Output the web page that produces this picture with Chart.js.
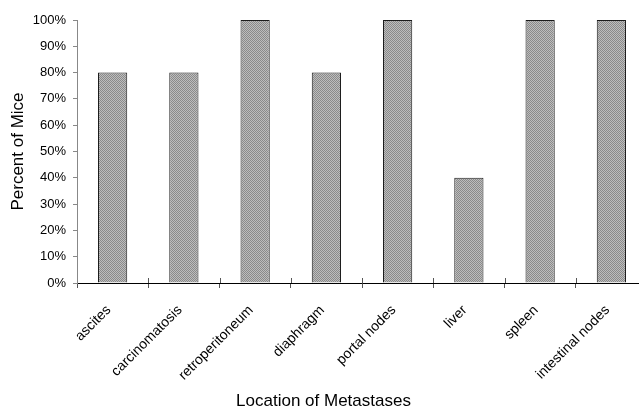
<!DOCTYPE html>
<html>
<head>
<meta charset="utf-8">
<script src="https://cdn.jsdelivr.net/npm/chart.js@4/dist/chart.umd.min.js"></script>
<style>
    html, body { margin: 0; padding: 0; background: #fff; overflow: hidden; }
    #metChart { display: block; }
</style>
</head>
<body>
<canvas id="metChart" width="660" height="412"></canvas>
<script>
const locations = ['ascites', 'carcinomatosis', 'retroperitoneum', 'diaphragm', 'portal nodes', 'liver', 'spleen', 'intestinal nodes'];
const percentMice = [80, 80, 100, 80, 100, 40, 100, 100];
const yTicks = [0, 10, 20, 30, 40, 50, 60, 70, 80, 90, 100];

document.addEventListener('DOMContentLoaded', () => {
    Chart.defaults.font.family = "'Liberation Sans', Arial, sans-serif";
    Chart.defaults.color = '#000';

    // dithered grey fill like the old print
    const tile = document.createElement('canvas');
    tile.width = 2; tile.height = 2;
    const tctx = tile.getContext('2d');
    tctx.fillStyle = '#bdbdbd'; tctx.fillRect(0, 0, 2, 2);
    tctx.fillStyle = '#8a8a8a'; tctx.fillRect(0, 0, 1, 1); tctx.fillRect(1, 1, 1, 1);
    const ctx = document.getElementById('metChart').getContext('2d');
    const fill = ctx.createPattern(tile, 'repeat');

    // category ticks cross the x axis line
    const crossTicks = {
        id: 'crossTicks',
        afterDatasetsDraw(chart) {
            const x = chart.scales.x, y = chart.scales.y;
            const c = chart.ctx;
            c.save();
            c.strokeStyle = '#555';
            c.lineWidth = 1;
            for (let i = 1; i < locations.length; i++) {
                const px = Math.round((x.getPixelForValue(i - 1) + x.getPixelForValue(i)) / 2) + 0.5;
                c.beginPath();
                c.moveTo(px, y.bottom - 5);
                c.lineTo(px, y.bottom);
                c.stroke();
            }
            c.restore();
        }
    };

    new Chart(ctx, {
        type: 'bar',
        data: {
            labels: locations,
            datasets: [{
                data: percentMice,
                backgroundColor: fill,
                borderColor: '#1a1a1a',
                borderWidth: { top: 1, left: 1, right: 1, bottom: 0 },
                borderSkipped: 'bottom',
                barPercentage: 0.41,
                categoryPercentage: 1
            }]
        },
        options: {
            responsive: false,
            animation: false,
            layout: { padding: { top: 20, right: 13, bottom: 0, left: 0 } },
            plugins: {
                legend: { display: false },
                tooltip: { enabled: false },
                title: {
                    display: true,
                    position: 'bottom',
                    text: 'Location of Metastases',
                    font: { size: 17, weight: 'normal' },
                    color: '#000',
                    padding: { top: 0, bottom: 0 }
                }
            },
            scales: {
                x: {
                    grid: { display: true, drawOnChartArea: false, offset: true, tickLength: 5, color: '#555' },
                    border: { color: '#000', width: 1 },
                    ticks: { font: { size: 14 }, maxRotation: 45, minRotation: 45, padding: 14, labelOffset: -4, autoSkip: false },
                    afterFit: scale => { scale.height = 412 - 283 - 20.4; }
                },
                y: {
                    min: 0,
                    max: 100,
                    afterBuildTicks: scale => { scale.ticks = yTicks.map(v => ({ value: v })); },
                    ticks: { font: { size: 13 }, padding: 7, callback: v => v + '%' },
                    grid: { display: true, drawOnChartArea: false, tickLength: 4, color: '#888' },
                    border: { color: '#888', width: 1 },
                    title: {
                        display: true,
                        text: 'Percent of Mice',
                        font: { size: 17 },
                        color: '#000',
                        padding: { top: 8, bottom: 0 }
                    },
                    afterFit: scale => { scale.width = 77; }
                }
            }
        },
        plugins: [crossTicks]
    });
});
</script>
</body>
</html>
